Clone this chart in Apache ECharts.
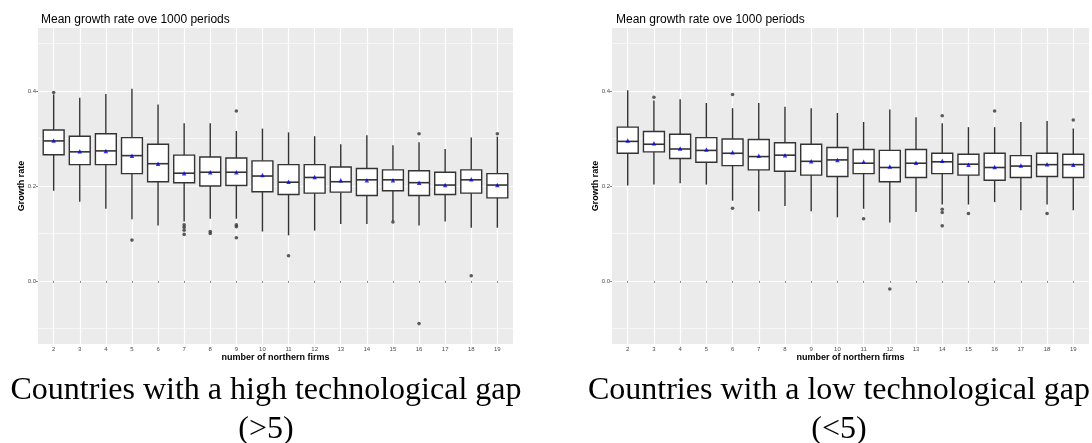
<!DOCTYPE html>
<html>
<head>
<meta charset="utf-8">
<title>Mean growth rate</title>
<script src="https://cdn.jsdelivr.net/npm/echarts@6.0.0/dist/echarts.min.js"></script>
<style>
  html, body { margin: 0; padding: 0; background: #fff; }
  #main { width: 1092px; height: 443px; }
</style>
</head>
<body>
<div id="main"></div>
<script>
// number of northern firms
var categories = [2, 3, 4, 5, 6, 7, 8, 9, 10, 11, 12, 13, 14, 15, 16, 17, 18, 19];

// high technological gap (>5)
var highLow    = [0.190, 0.167, 0.152, 0.130, 0.117, 0.125, 0.131, 0.131, 0.104, 0.096, 0.106, 0.120, 0.120, 0.126, 0.117, 0.125, 0.112, 0.112];
var highQ1     = [0.266, 0.245, 0.245, 0.226, 0.209, 0.207, 0.200, 0.201, 0.188, 0.182, 0.185, 0.187, 0.180, 0.190, 0.180, 0.182, 0.185, 0.175];
var highMedian = [0.295, 0.272, 0.274, 0.264, 0.247, 0.227, 0.229, 0.229, 0.221, 0.208, 0.218, 0.209, 0.213, 0.213, 0.207, 0.202, 0.213, 0.202];
var highQ3     = [0.318, 0.305, 0.310, 0.302, 0.288, 0.265, 0.261, 0.259, 0.253, 0.245, 0.245, 0.240, 0.237, 0.234, 0.232, 0.229, 0.234, 0.226];
var highHigh   = [0.393, 0.386, 0.394, 0.405, 0.372, 0.332, 0.332, 0.316, 0.321, 0.313, 0.305, 0.288, 0.307, 0.286, 0.292, 0.278, 0.302, 0.304];
var highMean   = [0.296, 0.273, 0.274, 0.264, 0.247, 0.227, 0.229, 0.229, 0.223, 0.209, 0.219, 0.212, 0.212, 0.212, 0.207, 0.202, 0.214, 0.202];
var highOutliers = [[2, 0.397], [5, 0.086], [7, 0.118], [7, 0.113], [7, 0.107], [7, 0.098], [8, 0.104], [8, 0.100],
  [9, 0.358], [9, 0.118], [9, 0.114], [9, 0.091], [11, 0.053], [15, 0.124], [16, 0.310], [16, -0.090], [18, 0.011], [19, 0.310]];

// low technological gap (<5)
var lowLow    = [0.201, 0.203, 0.206, 0.203, 0.169, 0.147, 0.158, 0.147, 0.134, 0.152, 0.123, 0.145, 0.161, 0.161, 0.166, 0.149, 0.161, 0.149];
var lowQ1     = [0.269, 0.272, 0.258, 0.250, 0.243, 0.234, 0.231, 0.223, 0.220, 0.226, 0.209, 0.218, 0.226, 0.223, 0.212, 0.218, 0.220, 0.218];
var lowMedian = [0.294, 0.288, 0.278, 0.275, 0.269, 0.262, 0.265, 0.252, 0.255, 0.248, 0.239, 0.248, 0.251, 0.246, 0.239, 0.242, 0.245, 0.245];
var lowQ3     = [0.324, 0.315, 0.309, 0.302, 0.299, 0.298, 0.291, 0.288, 0.281, 0.277, 0.275, 0.277, 0.269, 0.267, 0.269, 0.264, 0.269, 0.267];
var lowHigh   = [0.402, 0.380, 0.383, 0.375, 0.364, 0.375, 0.367, 0.364, 0.354, 0.335, 0.361, 0.345, 0.332, 0.324, 0.324, 0.335, 0.337, 0.321];
var lowMean   = [0.296, 0.290, 0.279, 0.277, 0.271, 0.264, 0.265, 0.252, 0.255, 0.251, 0.241, 0.249, 0.253, 0.245, 0.240, 0.243, 0.246, 0.245];
var lowOutliers = [[3, 0.387], [6, 0.393], [6, 0.153], [11, 0.131], [12, -0.017], [14, 0.348], [14, 0.151], [14, 0.144],
  [14, 0.116], [15, 0.142], [16, 0.358], [18, 0.142], [19, 0.339]];

var yMajor = [0, 0.2, 0.4];
var yMinor = [-0.1, 0.1, 0.3, 0.5];

var chart = echarts.init(document.getElementById('main'));

function boxData(lo, q1, med, q3, hi) {
  return categories.map(function (c, i) { return [c, lo[i], q1[i], med[i], q3[i], hi[i]]; });
}
function meanData(m) {
  return categories.map(function (c, i) { return [c, m[i]]; });
}

// ggplot style box: whiskers without caps
function renderBox(params, api) {
  var x = api.value(0);
  var lo = api.coord([x, api.value(1)]);
  var q1 = api.coord([x, api.value(2)]);
  var med = api.coord([x, api.value(3)]);
  var q3 = api.coord([x, api.value(4)]);
  var hi = api.coord([x, api.value(5)]);
  var half = api.size([1, 0])[0] * 0.4;
  var stroke = { stroke: '#333', lineWidth: 1.4 };
  return {
    type: 'group',
    children: [
      { type: 'line', shape: { x1: lo[0], y1: lo[1], x2: q1[0], y2: q1[1] }, style: stroke },
      { type: 'line', shape: { x1: q3[0], y1: q3[1], x2: hi[0], y2: hi[1] }, style: stroke },
      { type: 'rect', shape: { x: q3[0] - half, y: q3[1], width: half * 2, height: q1[1] - q3[1] },
        style: { fill: '#fff', stroke: '#333', lineWidth: 1.4 } },
      { type: 'line', shape: { x1: med[0] - half, y1: med[1], x2: med[0] + half, y2: med[1] },
        style: { stroke: '#333', lineWidth: 1.6 } }
    ]
  };
}

var nameFont = { fontSize: 9, fontWeight: 'bold', color: '#000', fontFamily: 'Liberation Sans' };

function xAxisFor(g) {
  return {
    type: 'value', gridIndex: g, min: 1.4, max: 19.6,
    name: 'number of northern firms', nameLocation: 'middle', nameGap: 9, nameMoveOverlap: false,
    nameTextStyle: nameFont,
    axisLine: { show: false },
    axisTick: { show: true, length: 2, lineStyle: { color: '#333', width: 0.6 }, customValues: categories },
    axisLabel: { fontSize: 6, color: '#4d4d4d', fontFamily: 'Liberation Sans', margin: 2, customValues: categories },
    splitLine: { show: true, lineStyle: { color: '#fff', width: 1.2 } }
  };
}
function yAxisFor(g) {
  return {
    type: 'value', gridIndex: g, min: -0.133, max: 0.533,
    name: 'Growth rate', nameLocation: 'middle', nameGap: 12, nameMoveOverlap: false, nameTextStyle: nameFont,
    axisLine: { show: false },
    axisTick: { show: true, length: 2, lineStyle: { color: '#333', width: 0.6 }, customValues: yMajor },
    axisLabel: { fontSize: 6, color: '#4d4d4d', fontFamily: 'Liberation Sans', margin: 2, customValues: yMajor,
      formatter: function (v) { return v.toFixed(1); } },
    splitLine: { show: true, lineStyle: { color: '#fff', width: 1.2 } }
  };
}
function yMinorFor(g) {
  return {
    type: 'value', gridIndex: g, min: -0.133, max: 0.533,
    axisLine: { show: false },
    axisTick: { show: false, customValues: yMinor },
    axisLabel: { show: false, customValues: yMinor },
    splitLine: { show: true, lineStyle: { color: '#fff', width: 0.6 } }
  };
}

function panelSeries(g, box, mean, outliers) {
  return [
    { type: 'custom', xAxisIndex: g, yAxisIndex: g * 2, renderItem: renderBox,
      encode: { x: 0, y: [1, 2, 3, 4, 5] }, data: box, z: 2, silent: true },
    { type: 'scatter', xAxisIndex: g, yAxisIndex: g * 2, data: outliers, symbol: 'circle', symbolSize: 3.6,
      itemStyle: { color: '#333' }, z: 3, silent: true },
    { type: 'scatter', xAxisIndex: g, yAxisIndex: g * 2, data: mean, symbol: 'triangle', symbolSize: 4.5,
      itemStyle: { color: '#0000ff' }, z: 4, silent: true }
  ];
}

var titleStyle = { fontSize: 12, fontWeight: 'normal', color: '#000', fontFamily: 'Liberation Sans' };
var captionFont = 'Liberation Serif';

var option = {
  animation: false,
  backgroundColor: '#fff',
  title: [
    { text: 'Mean growth rate ove 1000 periods', left: 36, top: 9, textStyle: titleStyle },
    { text: 'Mean growth rate ove 1000 periods', left: 611, top: 9, textStyle: titleStyle }
  ],
  grid: [
    { left: 38, top: 28, width: 475, height: 316, show: true, backgroundColor: '#ebebeb', borderWidth: 0 },
    { left: 612, top: 28, width: 477, height: 316, show: true, backgroundColor: '#ebebeb', borderWidth: 0 }
  ],
  xAxis: [xAxisFor(0), xAxisFor(1)],
  yAxis: [yAxisFor(0), yMinorFor(0), yAxisFor(1), yMinorFor(1)],
  series: [].concat(
    panelSeries(0, boxData(highLow, highQ1, highMedian, highQ3, highHigh), meanData(highMean), highOutliers),
    panelSeries(1, boxData(lowLow, lowQ1, lowMedian, lowQ3, lowHigh), meanData(lowMean), lowOutliers)
  ),
  graphic: [
    { type: 'text', x: 266, y: 391, style: { text: 'Countries with a high technological gap', fontSize: 32,
      fontFamily: captionFont, fill: '#000', align: 'center', verticalAlign: 'middle' } },
    { type: 'text', x: 266, y: 430, style: { text: '(>5)', fontSize: 32,
      fontFamily: captionFont, fill: '#000', align: 'center', verticalAlign: 'middle' } },
    { type: 'text', x: 839, y: 391, style: { text: 'Countries with a low technological gap', fontSize: 32,
      fontFamily: captionFont, fill: '#000', align: 'center', verticalAlign: 'middle' } },
    { type: 'text', x: 839, y: 430, style: { text: '(<5)', fontSize: 32,
      fontFamily: captionFont, fill: '#000', align: 'center', verticalAlign: 'middle' } }
  ]
};

chart.setOption(option);
</script>
</body>
</html>
